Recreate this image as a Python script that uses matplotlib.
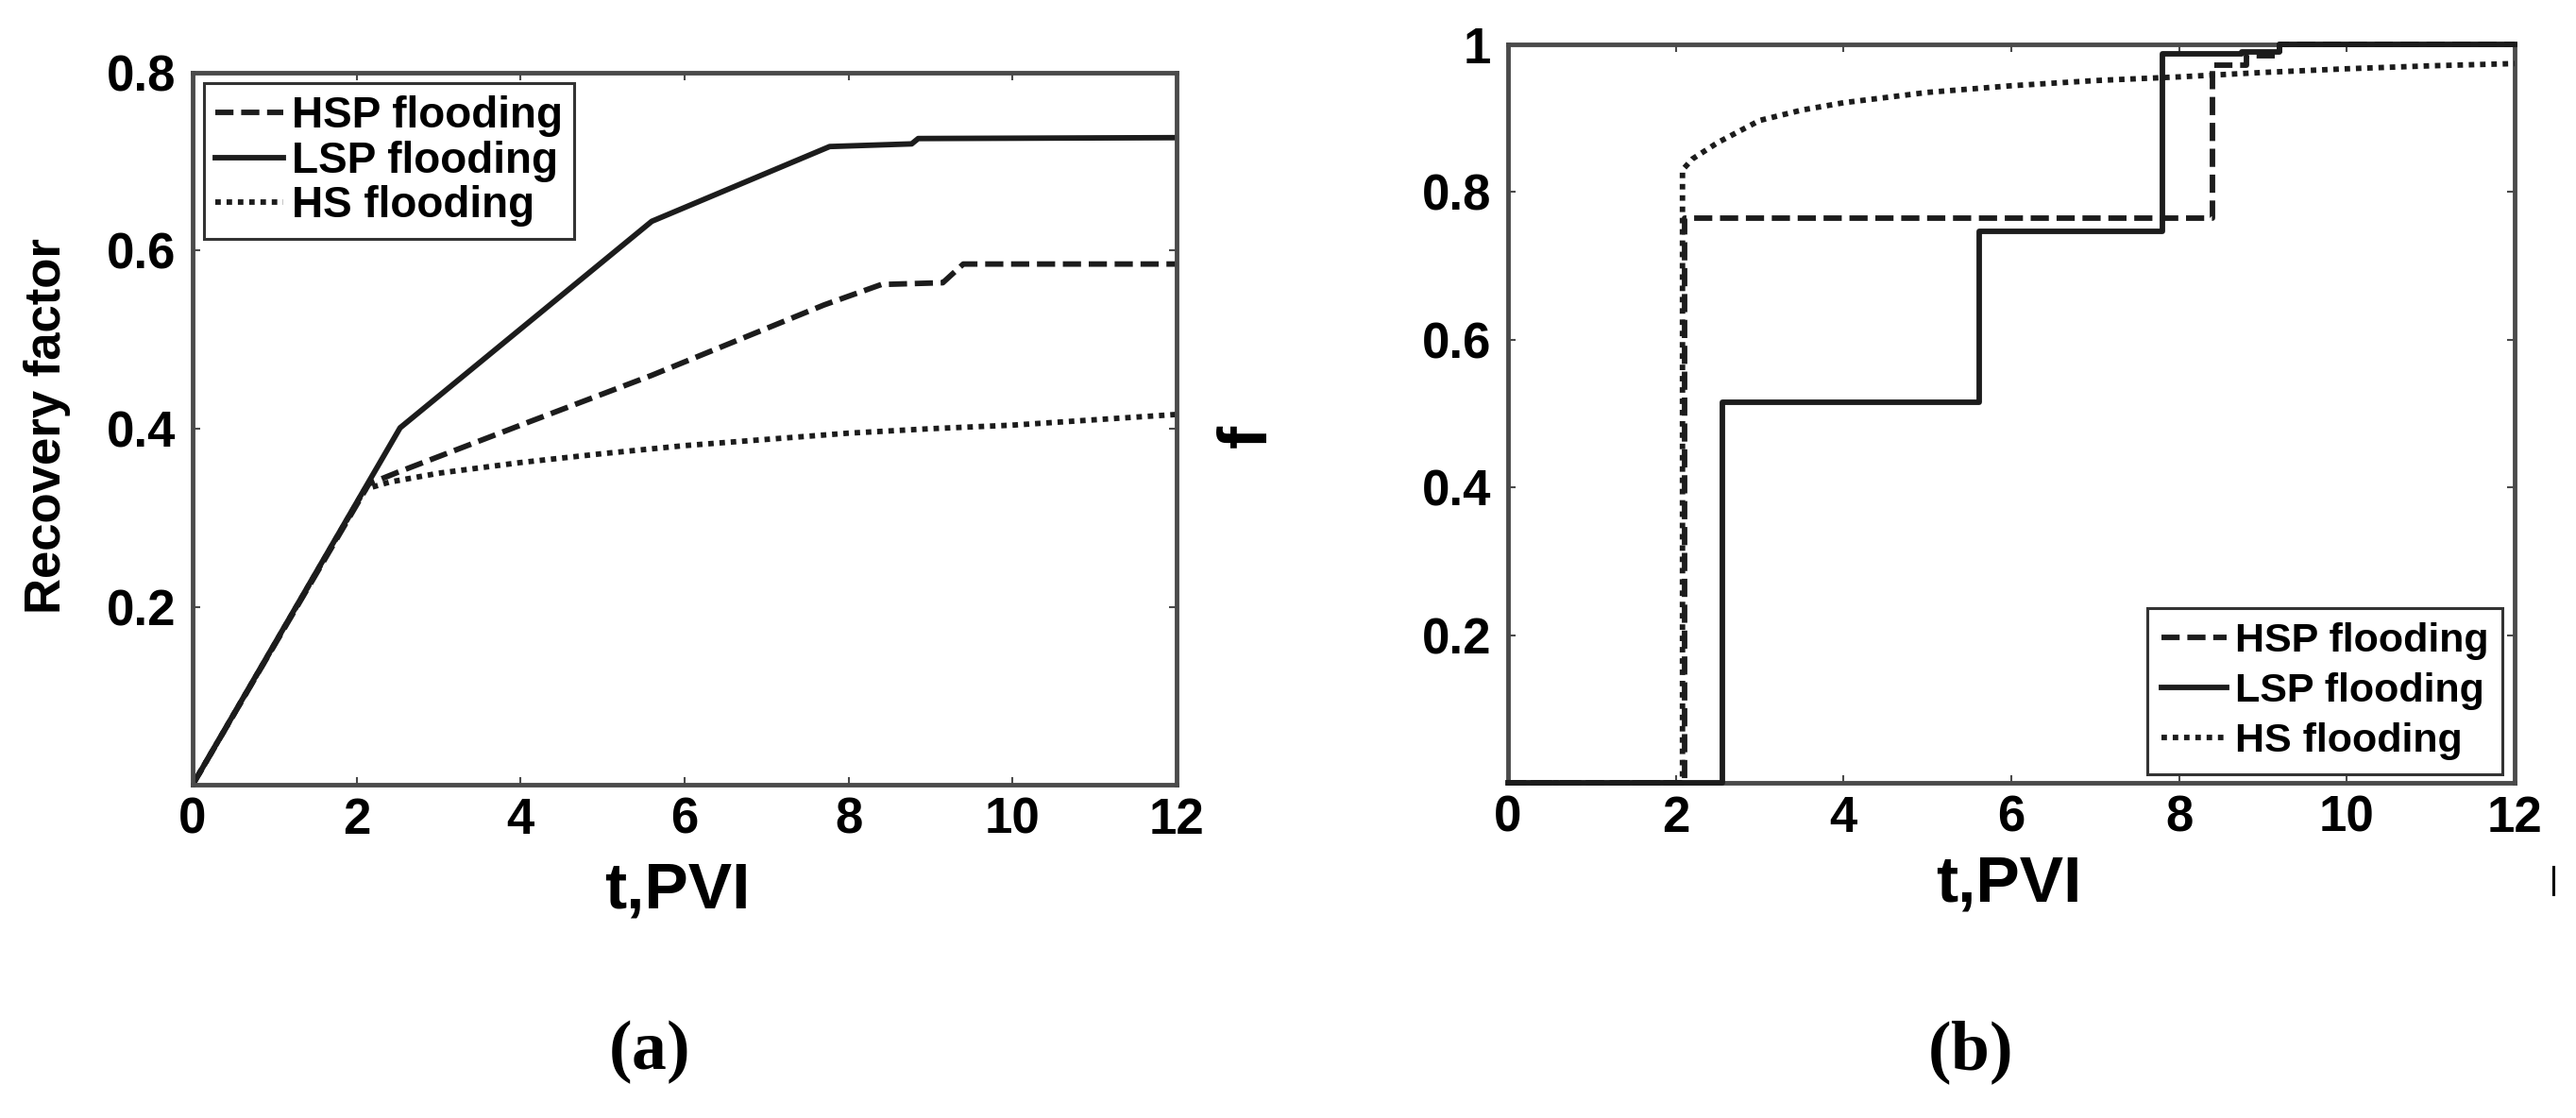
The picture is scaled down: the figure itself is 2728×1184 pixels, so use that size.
import matplotlib
matplotlib.use('Agg')
import matplotlib.pyplot as plt
from matplotlib.lines import Line2D

# (a) recovery factor vs injected pore volumes
hsp_t = [0, 2.15, 2.5, 4, 5.6, 7.7, 8.4, 9.15, 9.4, 12]
hsp_rf = [0, 0.338, 0.351, 0.404, 0.46, 0.539, 0.562, 0.564, 0.585, 0.585]
lsp_t = [0, 2.53, 5.6, 7.77, 8.77, 8.85, 12]
lsp_rf = [0, 0.401, 0.633, 0.717, 0.720, 0.726, 0.727]
hs_t = [0, 2.1, 2.4, 3, 4, 5, 6, 7, 8, 9, 10, 11, 12]
hs_rf = [0, 0.332, 0.340, 0.350, 0.362, 0.372, 0.381, 0.388, 0.395, 0.400, 0.404, 0.410, 0.416]

# (b) fractional flow f (step curves)
hsp_ft = [0, 2.1, 8.4, 8.8, 9.2, 12]
hsp_f = [0, 0.765, 0.972, 0.985, 1.0, 1.0]
lsp_ft = [0, 2.55, 5.62, 7.8, 8.75, 9.2, 12]
lsp_f = [0, 0.515, 0.747, 0.987, 0.99, 1.0, 1.0]
hs_ft = [0, 2.08, 2.08, 2.2, 2.5, 3, 3.5, 4, 5, 6, 7, 8, 9, 10, 11, 12]
hs_f = [0, 0, 0.83, 0.845, 0.867, 0.897, 0.911, 0.921, 0.935, 0.944, 0.951, 0.956, 0.962, 0.967, 0.971, 0.974]

labels = ['HSP flooding', 'LSP flooding', 'HS flooding']
x_ticks = [0, 2, 4, 6, 8, 10, 12]

plt.rcParams['font.family'] = ['Liberation Sans', 'DejaVu Sans']
plt.rcParams['font.weight'] = 'bold'
plt.rcParams['mathtext.fontset'] = 'custom'
plt.rcParams['mathtext.rm'] = 'Liberation Serif'
plt.rcParams['mathtext.bf'] = 'Liberation Serif:bold'

line_col = '#1c1c1c'
spine_col = '#4a4a4a'
lw = 4.2
dash = (0, (3.3, 1.4))
dot = (0, (1.0, 1.05))

fig = plt.figure(figsize=(27.28, 11.84), dpi=100)
ax1 = fig.add_axes([0.0748, 0.2981, 0.3819, 0.6369])
ax2 = fig.add_axes([0.5854, 0.2998, 0.3908, 0.6605])


def style_axes(ax):
    for sp in ax.spines.values():
        sp.set_color(spine_col)
        sp.set_linewidth(3.5)
    ax.tick_params(direction='in', length=6, width=1.5, color=spine_col,
                   top=True, right=True, labelsize=38)
    ax.tick_params(axis='x', pad=9)
    ax.tick_params(axis='y', pad=13)
    ax.set_xlim(0, 12)
    ax.set_xticks(x_ticks)
    for lab in ax.get_xticklabels() + ax.get_yticklabels():
        lab.set_fontweight('bold')


# panel (a)
ax1.plot(hsp_t, hsp_rf, color=line_col, lw=lw, ls=dash, label=labels[0])
ax1.plot(lsp_t, lsp_rf, color=line_col, lw=lw, ls='-', label=labels[1])
ax1.plot(hs_t, hs_rf, color=line_col, lw=lw, ls=dot, label=labels[2])
ax1.set_ylim(0, 0.8)
ax1.set_yticks([0.2, 0.4, 0.6, 0.8])
ax1.set_yticklabels(['0.2', '0.4', '0.6', '0.8'])
style_axes(ax1)
ax1.set_xlabel('t,PVI', fontsize=50, fontweight='bold', va='center')
ax1.xaxis.set_label_coords(0.493, -0.1485)
ax1.set_ylabel('Recovery factor', fontsize=38, fontweight='bold', va='center')
ax1.yaxis.set_label_coords(-0.148, 0.504)
leg1 = ax1.legend(loc='upper left', bbox_to_anchor=(0.011, 0.985), borderaxespad=0,
                  fontsize=33, handlelength=1.57, handletextpad=0.18,
                  borderpad=0.28, labelspacing=0.08, fancybox=False, framealpha=1)
leg1.get_frame().set_edgecolor('#333333')
leg1.get_frame().set_linewidth(2.2)

# panel (b)
ax2.plot(hsp_ft, hsp_f, color=line_col, lw=lw, ls=dash, drawstyle='steps-post',
         label=labels[0], clip_on=False, zorder=3)
ax2.plot(lsp_ft, lsp_f, color=line_col, lw=lw, ls='-', drawstyle='steps-post',
         label=labels[1], clip_on=False, zorder=3)
ax2.plot(hs_ft, hs_f, color=line_col, lw=lw, ls=dot, label=labels[2],
         clip_on=False, zorder=3)
ax2.set_ylim(0, 1)
ax2.set_yticks([0.2, 0.4, 0.6, 0.8, 1.0])
ax2.set_yticklabels(['0.2', '0.4', '0.6', '0.8', '1'])
style_axes(ax2)
ax2.set_xlabel('t,PVI', fontsize=50, fontweight='bold', va='center')
ax2.xaxis.set_label_coords(0.497, -0.138)
ax2.set_ylabel('f', fontsize=52, fontweight='bold', va='center')
ax2.yaxis.set_label_coords(-0.258, 0.469)
leg2 = ax2.legend(loc='lower right', bbox_to_anchor=(0.988, 0.0115), borderaxespad=0,
                  fontsize=31, handlelength=1.6, handletextpad=0.2,
                  borderpad=0.35, labelspacing=0.3, fancybox=False, framealpha=1)
leg2.get_frame().set_edgecolor('#333333')
leg2.get_frame().set_linewidth(2.2)
leg2.set_zorder(5)

# panel captions
fig.text(686 / 2728, 1 - 1114 / 1184, r'$\mathrm{(}\mathbf{a}\mathrm{)}$',
         fontsize=53, ha='center', va='center')
fig.text(2085 / 2728, 1 - 1115 / 1184, r'$\mathrm{(}\mathbf{b}\mathrm{)}$',
         fontsize=53, ha='center', va='center')

# stray mark at the right edge of the source image
fig.add_artist(Line2D([0.9912, 0.9912], [0.2247, 0.2002], color='black', lw=2.2))

fig.savefig('out.png', dpi=100, facecolor='white')
plt.close(fig)
